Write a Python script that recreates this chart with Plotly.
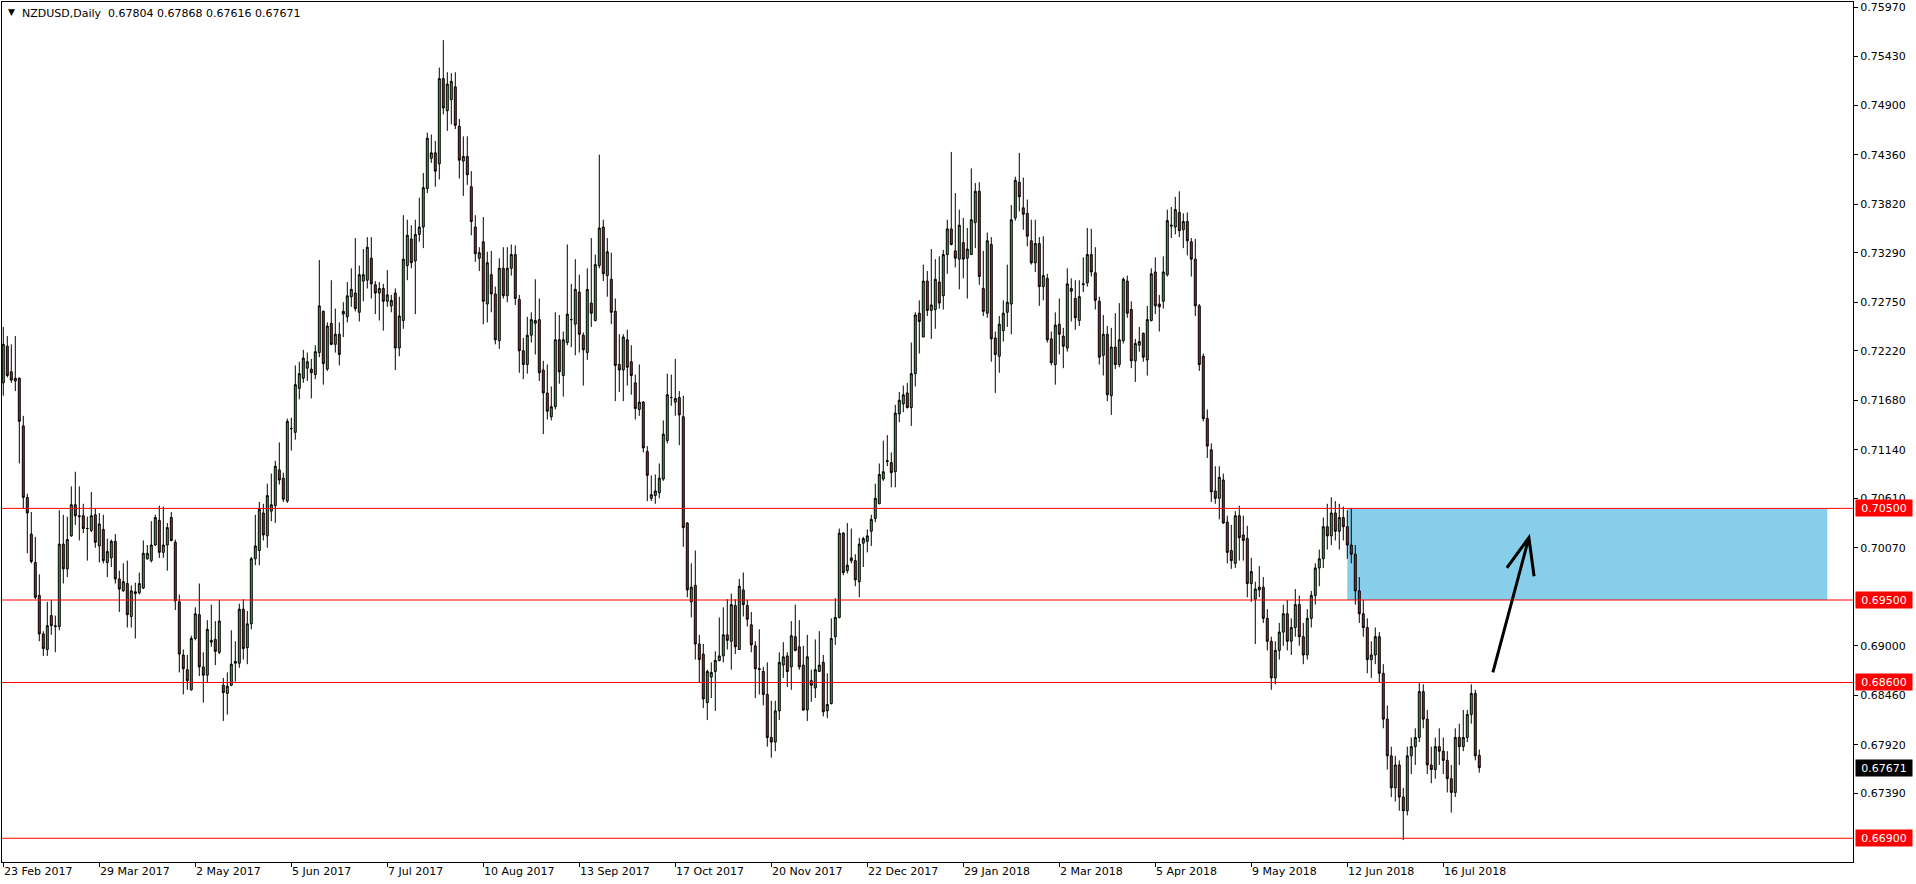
import plotly.graph_objects as go

# ---------------- data (prices in pips, x 1e-4) ----------------
title_text = "NZDUSD,Daily\u00a0\u00a00.67804 0.67868 0.67616 0.67671"
date_labels = ["23 Feb 2017", "29 Mar 2017", "2 May 2017", "5 Jun 2017", "7 Jul 2017",
               "10 Aug 2017", "13 Sep 2017", "17 Oct 2017", "20 Nov 2017", "22 Dec 2017",
               "29 Jan 2018", "2 Mar 2018", "5 Apr 2018", "9 May 2018", "12 Jun 2018",
               "16 Jul 2018"]
date_label_bars = [0, 24, 48, 72, 96, 120, 144, 168, 192, 216, 240, 264, 288, 312, 336, 360]
price_ticks = [0.75970, 0.75430, 0.74900, 0.74360, 0.73820, 0.73290, 0.72750, 0.72220,
               0.71680, 0.71140, 0.70610, 0.70070, 0.69000, 0.68460, 0.67920, 0.67390]
levels = [0.70500, 0.69500, 0.68600, 0.66900]
last_price = 0.67671
zone_bars = [336, 456]
zone_prices = [0.69500, 0.70500]

opens = [
    7187, 7227, 7199, 7189, 7192, 7140, 7062, 7022, 6991, 6955,
    6913, 6896, 6933, 6922, 6921, 7011, 6984, 7020, 7054, 7042,
    7042, 7028, 7026, 7043, 7009, 7027, 6991, 6996, 7014, 6973,
    6960, 6968, 6932, 6959, 6958, 6963, 6995, 6993, 7010, 7037,
    7002, 7010, 7040, 7013, 6948, 6890, 6874, 6852, 6908, 6934,
    6877, 6868, 6904, 6907, 6893, 6857, 6848, 6857, 6881, 6881,
    6940, 6898, 6924, 6995, 7004, 7045, 7020, 7047, 7053, 7092,
    7083, 7058, 7137, 7133, 7181, 7192, 7203, 7202, 7196, 7220,
    7265, 7202, 7252, 7229, 7240, 7262, 7259, 7281, 7285, 7264,
    7298, 7299, 7323, 7294, 7285, 7290, 7276, 7271, 7285, 7225,
    7255, 7315, 7344, 7320, 7349, 7357, 7399, 7432, 7438, 7426,
    7519, 7484, 7496, 7510, 7467, 7429, 7434, 7401, 7357, 7323,
    7341, 7273, 7305, 7284, 7233, 7312, 7282, 7312, 7327, 7278,
    7222, 7207, 7239, 7252, 7256, 7201, 7176, 7150, 7161, 7234,
    7195, 7231, 7256, 7251, 7286, 7239, 7220, 7274, 7255, 7315,
    7357, 7304, 7300, 7265, 7207, 7201, 7234, 7210, 7187, 7158,
    7166, 7112, 7061, 7064, 7067, 7082, 7124, 7171, 7166, 7171,
    7150, 7034, 6948, 6966, 6902, 6891, 6838, 6866, 6872, 6884,
    6889, 6912, 6905, 6944, 6896, 6961, 6944, 6923, 6900, 6874,
    6872, 6847, 6800, 6795, 6829, 6879, 6889, 6877, 6910, 6899,
    6879, 6830, 6862, 6854, 6872, 6882, 6829, 6837, 6910, 6931,
    7023, 6982, 6996, 6993, 6970, 7012, 7014, 7025, 7039, 7055,
    7082, 7101, 7100, 7090, 7153, 7164, 7176, 7160, 7197, 7263,
    7237, 7298, 7266, 7267, 7297, 7282, 7327, 7355, 7331, 7322,
    7340, 7323, 7327, 7362, 7396, 7290, 7263, 7338, 7236, 7216,
    7244, 7264, 7273, 7367, 7406, 7378, 7372, 7342, 7318, 7339,
    7292, 7301, 7235, 7207, 7251, 7238, 7225, 7290, 7279, 7255,
    7294, 7296, 7327, 7307, 7276, 7217, 7240, 7173, 7226, 7207,
    7233, 7298, 7267, 7211, 7228, 7241, 7212, 7255, 7308, 7273,
    7276, 7305, 7358, 7357, 7373, 7354, 7363, 7341, 7322, 7271,
    7216, 7148, 7114, 7069, 7061, 7081, 7035, 7004, 6990, 7042,
    7021, 7017, 6968, 6951, 6961, 6964, 6930, 6905, 6865, 6895,
    6915, 6935, 6905, 6920, 6945, 6910, 6890, 6930, 6955, 6985,
    6995, 7030, 7020, 7045, 7025, 7040, 7030, 7010, 7000, 6960,
    6935, 6920, 6885, 6890, 6910, 6870, 6820, 6780, 6745, 6770,
    6735, 6720, 6780, 6790, 6800, 6850, 6820, 6770, 6765, 6790,
    6785, 6775, 6755, 6740, 6800, 6790, 6800, 6825, 6848, 6780.4,
]
highs = [
    7248, 7238, 7229, 7238, 7193, 7151, 7066, 7046, 7019, 6978,
    6916, 6948, 6950, 6933, 7048, 7043, 7041, 7074, 7090, 7074,
    7055, 7041, 7068, 7050, 7045, 7043, 7017, 7016, 7022, 6982,
    6990, 6993, 6966, 6969, 6980, 7015, 7010, 7036, 7043, 7053,
    7052, 7034, 7046, 7016, 6956, 6896, 6890, 6911, 6942, 6968,
    6893, 6928, 6945, 6927, 6950, 6865, 6871, 6917, 6905, 6946,
    6951, 6938, 6997, 7043, 7057, 7055, 7077, 7088, 7102, 7122,
    7089, 7148, 7149, 7206, 7210, 7223, 7220, 7213, 7228, 7321,
    7266, 7253, 7299, 7268, 7253, 7275, 7297, 7312, 7345, 7315,
    7333, 7346, 7346, 7298, 7297, 7295, 7310, 7283, 7290, 7281,
    7370, 7365, 7359, 7365, 7389, 7416, 7460, 7458, 7451, 7531,
    7561, 7526, 7525, 7526, 7475, 7456, 7456, 7418, 7370, 7335,
    7368, 7330, 7331, 7292, 7323, 7335, 7335, 7338, 7337, 7283,
    7236, 7259, 7264, 7300, 7279, 7211, 7207, 7183, 7264, 7261,
    7243, 7338, 7295, 7322, 7305, 7242, 7312, 7345, 7327, 7436,
    7365, 7345, 7329, 7279, 7240, 7240, 7245, 7228, 7196, 7207,
    7167, 7118, 7086, 7087, 7099, 7146, 7197, 7196, 7213, 7178,
    7173, 7035, 6990, 7004, 6912, 6902, 6874, 6882, 6894, 6931,
    6942, 6951, 6957, 6951, 6973, 6980, 6950, 6937, 6905, 6918,
    6877, 6882, 6840, 6840, 6893, 6904, 6893, 6927, 6945, 6928,
    6900, 6912, 6874, 6907, 6916, 6890, 6870, 6930, 6952, 7028,
    7024, 7034, 7028, 7000, 7018, 7019, 7027, 7043, 7077, 7099,
    7124, 7130, 7111, 7163, 7177, 7184, 7187, 7231, 7264, 7277,
    7316, 7309, 7333, 7322, 7325, 7332, 7365, 7439, 7394, 7376,
    7367, 7356, 7421, 7405, 7406, 7331, 7351, 7346, 7243, 7260,
    7277, 7316, 7381, 7412, 7438, 7411, 7387, 7365, 7365, 7346,
    7347, 7306, 7243, 7264, 7279, 7247, 7312, 7301, 7299, 7299,
    7324, 7356, 7355, 7335, 7281, 7261, 7249, 7247, 7263, 7274,
    7302, 7304, 7276, 7235, 7248, 7242, 7271, 7312, 7324, 7283,
    7325, 7376, 7379, 7390, 7396, 7372, 7373, 7345, 7344, 7273,
    7219, 7158, 7121, 7096, 7096, 7088, 7042, 7032, 7047, 7053,
    7042, 7031, 6996, 6970, 6987, 6975, 6940, 6910, 6905, 6925,
    6945, 6950, 6930, 6962, 6955, 6925, 6940, 6960, 6990, 7005,
    7040, 7055, 7062, 7058, 7055, 7052, 7048, 7050, 7010, 6975,
    6950, 6930, 6905, 6920, 6915, 6880, 6835, 6790, 6780, 6775,
    6745, 6790, 6800, 6810, 6860, 6858, 6830, 6790, 6800, 6810,
    6800, 6785, 6770, 6810, 6815, 6830, 6830, 6858, 6852, 6786.8,
]
lows = [
    7173, 7193, 7187, 7178, 7099, 7050, 7001, 6990, 6951, 6905,
    6889, 6889, 6912, 6893, 6917, 6968, 6975, 7019, 7032, 7015,
    7023, 6993, 7024, 7007, 6991, 6990, 6975, 6986, 6968, 6937,
    6959, 6920, 6920, 6908, 6956, 6962, 6994, 6991, 7009, 6996,
    6996, 6982, 7014, 6939, 6871, 6847, 6852, 6851, 6906, 6867,
    6838, 6860, 6899, 6879, 6891, 6818, 6825, 6856, 6861, 6876,
    6885, 6880, 6918, 6988, 6988, 7015, 7007, 7036, 7034, 7076,
    7057, 7056, 7113, 7125, 7169, 7187, 7189, 7170, 7191, 7215,
    7185, 7200, 7228, 7220, 7206, 7237, 7253, 7270, 7265, 7254,
    7276, 7290, 7279, 7262, 7255, 7244, 7270, 7264, 7201, 7216,
    7246, 7299, 7312, 7262, 7341, 7334, 7394, 7427, 7401, 7409,
    7480, 7462, 7469, 7464, 7410, 7391, 7403, 7348, 7319, 7309,
    7251, 7253, 7264, 7229, 7224, 7279, 7275, 7304, 7272, 7198,
    7191, 7197, 7231, 7218, 7189, 7131, 7147, 7146, 7158, 7186,
    7172, 7228, 7226, 7217, 7220, 7184, 7212, 7248, 7254, 7312,
    7298, 7281, 7251, 7167, 7177, 7167, 7184, 7174, 7147, 7151,
    7111, 7058, 7058, 7055, 7061, 7080, 7121, 7162, 7151, 7119,
    7008, 6953, 6931, 6885, 6860, 6832, 6819, 6843, 6829, 6883,
    6882, 6896, 6874, 6891, 6896, 6932, 6921, 6893, 6843, 6847,
    6835, 6790, 6778, 6785, 6819, 6865, 6855, 6852, 6894, 6874,
    6829, 6818, 6839, 6843, 6872, 6823, 6821, 6836, 6901, 6930,
    6977, 6979, 6990, 6965, 6953, 6986, 7002, 7009, 7035, 7055,
    7080, 7096, 7073, 7073, 7144, 7155, 7159, 7140, 7183, 7219,
    7237, 7260, 7235, 7246, 7268, 7267, 7306, 7337, 7313, 7289,
    7301, 7279, 7327, 7334, 7294, 7260, 7258, 7210, 7176, 7198,
    7232, 7248, 7240, 7364, 7374, 7354, 7336, 7316, 7308, 7271,
    7277, 7231, 7206, 7185, 7218, 7203, 7221, 7254, 7245, 7249,
    7286, 7292, 7303, 7267, 7207, 7195, 7167, 7152, 7202, 7204,
    7230, 7258, 7203, 7188, 7221, 7210, 7195, 7254, 7262, 7243,
    7268, 7303, 7345, 7349, 7346, 7334, 7326, 7303, 7260, 7200,
    7145, 7105, 7057, 7055, 7038, 7033, 6990, 6984, 6985, 6993,
    6993, 6953, 6948, 6902, 6953, 6925, 6895, 6852, 6858, 6885,
    6900, 6895, 6890, 6910, 6900, 6880, 6885, 6920, 6945, 6965,
    6985, 7005, 7010, 7015, 7005, 7015, 6995, 6990, 6945, 6925,
    6910, 6870, 6865, 6880, 6860, 6810, 6765, 6735, 6730, 6720,
    6688, 6715, 6760, 6770, 6795, 6810, 6760, 6750, 6755, 6770,
    6760, 6740, 6718, 6735, 6770, 6785, 6795, 6815, 6775, 6761.6,
]
closes = [
    7229, 7195, 7190, 7192, 7145, 7062, 7045, 6992, 6953, 6913,
    6897, 6922, 6922, 6921, 7011, 6984, 7016, 7054, 7042, 7041,
    7028, 7028, 7042, 7013, 7033, 6993, 7003, 7014, 6973, 6962,
    6970, 6934, 6960, 6957, 6968, 7001, 7001, 7010, 7040, 7002,
    7010, 7029, 7015, 6949, 6891, 6875, 6862, 6908, 6935, 6877,
    6868, 6918, 6906, 6894, 6927, 6849, 6856, 6880, 6883, 6940,
    6897, 6924, 6995, 7009, 7049, 7021, 7064, 7054, 7096, 7081,
    7060, 7145, 7137, 7185, 7197, 7214, 7210, 7198, 7221, 7271,
    7208, 7249, 7229, 7240, 7218, 7265, 7282, 7289, 7268, 7305,
    7305, 7335, 7295, 7285, 7290, 7276, 7283, 7277, 7225, 7260,
    7322, 7348, 7318, 7349, 7357, 7400, 7454, 7438, 7418, 7519,
    7487, 7513, 7516, 7468, 7430, 7434, 7414, 7363, 7328, 7329,
    7276, 7318, 7284, 7234, 7312, 7282, 7312, 7327, 7279, 7222,
    7207, 7239, 7256, 7255, 7198, 7176, 7156, 7161, 7234, 7199,
    7234, 7262, 7256, 7289, 7240, 7223, 7289, 7263, 7316, 7356,
    7306, 7330, 7264, 7206, 7201, 7237, 7204, 7195, 7159, 7166,
    7116, 7086, 7065, 7069, 7083, 7131, 7174, 7171, 7170, 7152,
    7029, 6961, 6964, 6902, 6885, 6842, 6872, 6871, 6884, 6889,
    6912, 6906, 6945, 6899, 6965, 6945, 6929, 6901, 6875, 6875,
    6847, 6800, 6795, 6829, 6882, 6888, 6872, 6911, 6895, 6877,
    6830, 6888, 6857, 6874, 6879, 6828, 6836, 6908, 6931, 7023,
    6980, 6988, 6993, 6972, 7011, 7017, 7020, 7038, 7061, 7087,
    7090, 7102, 7089, 7154, 7168, 7174, 7160, 7197, 7261, 7254,
    7298, 7266, 7272, 7300, 7274, 7327, 7355, 7338, 7323, 7359,
    7322, 7333, 7365, 7396, 7303, 7265, 7342, 7235, 7218, 7251,
    7263, 7275, 7365, 7408, 7390, 7371, 7347, 7318, 7339, 7292,
    7304, 7234, 7209, 7250, 7240, 7227, 7295, 7287, 7258, 7281,
    7295, 7327, 7308, 7277, 7215, 7240, 7174, 7226, 7207, 7234,
    7300, 7263, 7211, 7230, 7232, 7215, 7256, 7306, 7271, 7270,
    7308, 7364, 7359, 7376, 7353, 7363, 7342, 7322, 7271, 7207,
    7148, 7118, 7068, 7061, 7084, 7034, 7002, 6993, 7042, 7018,
    7015, 6968, 6981, 6962, 6964, 6930, 6905, 6865, 6895, 6915,
    6935, 6905, 6920, 6945, 6910, 6890, 6930, 6955, 6985, 6995,
    7030, 7020, 7045, 7025, 7040, 7030, 7010, 7000, 6960, 6935,
    6920, 6885, 6890, 6910, 6870, 6820, 6780, 6745, 6770, 6735,
    6720, 6780, 6790, 6800, 6850, 6820, 6770, 6765, 6790, 6785,
    6775, 6755, 6740, 6800, 6790, 6800, 6825, 6848, 6780, 6767.1,
]

# ---------------- figure ----------------
PIP = 1e-4
bars = list(range(len(closes)))
FONT = "DejaVu Sans"

fig = go.Figure()
fig.add_trace(go.Candlestick(
    x=bars,
    open=[v * PIP for v in opens],
    high=[v * PIP for v in highs],
    low=[v * PIP for v in lows],
    close=[v * PIP for v in closes],
    increasing=dict(line=dict(color="black", width=1), fillcolor="#3DAE3D"),
    decreasing=dict(line=dict(color="black", width=1), fillcolor="#D11A1A"),
    whiskerwidth=0,
    hoverinfo="skip",
    showlegend=False,
))

shapes = []
# blue zone (drawn behind the candles)
shapes.append(dict(type="rect", xref="x", yref="y",
                   x0=zone_bars[0], x1=zone_bars[1], y0=zone_prices[0], y1=zone_prices[1],
                   fillcolor="#87CEEB", line=dict(width=0), layer="below"))
# horizontal levels
for lv in levels:
    shapes.append(dict(type="line", xref="paper", yref="y", x0=0, x1=1, y0=lv, y1=lv,
                       line=dict(color="#FF0000", width=1)))
# hand-drawn arrow (bar index / price coordinates)
arrow_path = ("M 372.4,0.6871 L 381.4,0.7018 "
              "M 375.9,0.6985 L 381.4,0.7018 L 382.7,0.6976")
shapes.append(dict(type="path", xref="x", yref="y", path=arrow_path,
                   line=dict(color="black", width=3)))

annotations = []
# title
annotations.append(dict(xref="paper", yref="paper", x=0, y=1, xanchor="left", yanchor="top",
                        xshift=4, yshift=-3, showarrow=False, text="\u25BC",
                        font=dict(family=FONT, size=9, color="#000000")))
annotations.append(dict(xref="paper", yref="paper", x=0, y=1, xanchor="left", yanchor="top",
                        xshift=18, yshift=-3, showarrow=False, text=title_text,
                        font=dict(family=FONT, size=11, color="#000000")))
# date labels (left aligned at bar positions)
for b, t in zip(date_label_bars, date_labels):
    annotations.append(dict(xref="x", yref="paper", x=b, y=0, xanchor="left", yanchor="top",
                            xshift=-1, yshift=-1, showarrow=False, text=t,
                            font=dict(family=FONT, size=11, color="black")))
# level price tags
for lv in levels:
    annotations.append(dict(xref="paper", yref="y", x=1, y=lv, xanchor="left", yanchor="middle",
                            xshift=2, showarrow=False, text=f"{lv:.5f}",
                            width=54, height=14, bgcolor="#FF0000", borderpad=1,
                            font=dict(family=FONT, size=11, color="white")))
# last price tag
annotations.append(dict(xref="paper", yref="y", x=1, y=last_price, xanchor="left", yanchor="middle",
                        xshift=2, showarrow=False, text=f"{last_price:.5f}",
                        width=54, height=14, bgcolor="#000000", borderpad=1,
                        font=dict(family=FONT, size=11, color="white")))

fig.update_layout(
    width=1916, height=884,
    margin=dict(l=2, r=63, t=2, b=22),
    paper_bgcolor="white", plot_bgcolor="white",
    shapes=shapes, annotations=annotations,
    xaxis=dict(range=[-0.325, 462.43], showgrid=False, zeroline=False,
               showline=True, linecolor="black", linewidth=1, mirror=True,
               tickvals=date_label_bars, ticktext=[""] * len(date_label_bars),
               ticks="outside", ticklen=4, tickcolor="black",
               rangeslider=dict(visible=False), fixedrange=True),
    yaxis=dict(side="right", range=[0.66641, 0.76026], showgrid=False, zeroline=False,
               showline=True, linecolor="black", linewidth=1, mirror=True,
               tickvals=price_ticks, ticktext=[f"{p:.5f}" for p in price_ticks],
               ticks="outside", ticklen=4, tickcolor="black",
               tickfont=dict(family=FONT, size=11, color="black"), fixedrange=True),
)

fig.write_html("out.html",
               config={"displayModeBar": False, "staticPlot": True},
               post_script="document.body.style.margin='0';document.body.style.overflow='hidden';")
